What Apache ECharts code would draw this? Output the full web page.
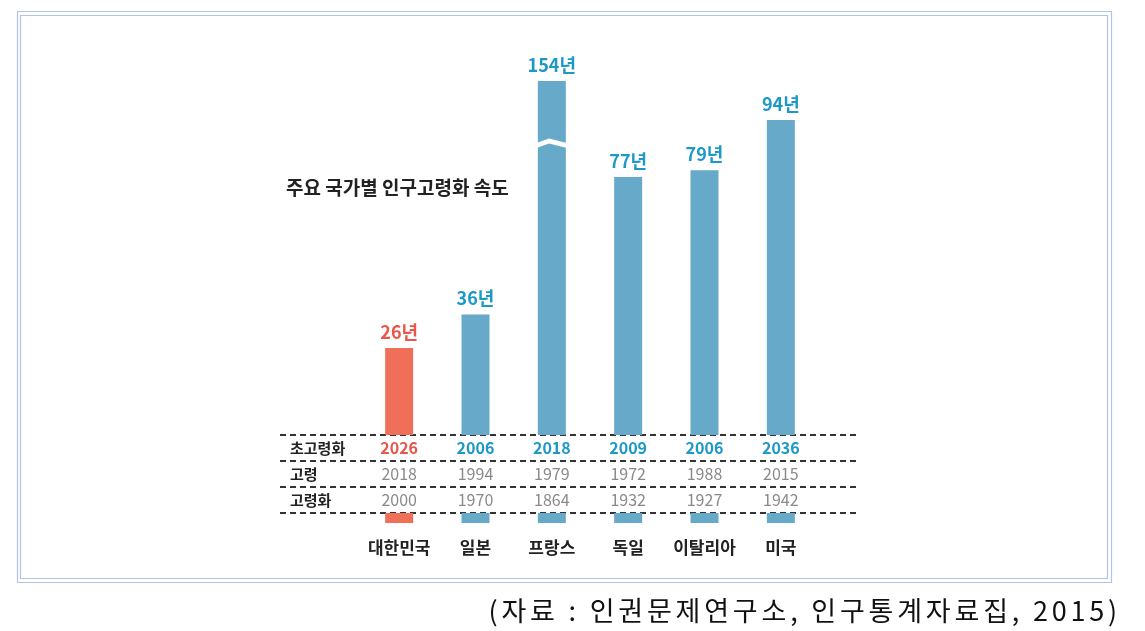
<!DOCTYPE html>
<html><head><meta charset="utf-8">
<script src="https://cdn.jsdelivr.net/npm/echarts@6/dist/echarts.min.js"></script>
<style>
html,body{margin:0;padding:0;background:#fff;}
#c{width:1145px;height:631px;}
#src{position:absolute;right:24px;top:594px;font-family:'Noto Sans CJK KR',sans-serif;font-size:27px;line-height:32px;letter-spacing:3.8px;color:#111;white-space:nowrap;}
</style></head><body>
<div id="c"></div>
<div id="src">(자료 : 인권문제연구소, 인구통계자료집, 2015)</div>
<script>
const countries = ['대한민국','일본','프랑스','독일','이탈리아','미국'];
const agingSpeed = [26,36,154,77,79,94];
const superAgedYear = [2026,2006,2018,2009,2006,2036];
const agedYear = [2018,1994,1979,1972,1988,2015];
const agingYear = [2000,1970,1864,1932,1927,1942];
const rowHeaders = ['초고령화','고령','고령화'];
const unitText = '년';
const titleText = '주요 국가별 인구고령화 속도';
const highlight = '대한민국';

const RED_BAR = '#ef6f59', BLUE_BAR = '#67a9c9';
const RED_TXT = '#e9574a', BLUE_TXT = '#1d98c9';
const BORDER = '#b2c2ea';
const NARROW = "'Liberation Sans Narrow','Noto Sans CJK KR',sans-serif";
const CJK = "'Noto Sans CJK KR',sans-serif";

const brokenIdx = agingSpeed.indexOf(Math.max(...agingSpeed));
const isHi = i => countries[i] === highlight;
const labelFor = i => ({
  show: true, position: 'top', distance: 7,
  formatter: p => p.value + unitText,
  fontFamily: NARROW, fontSize: 18, fontWeight: 'bold',
  color: isHi(i) ? RED_TXT : BLUE_TXT
});
const barItem = i => ({
  value: agingSpeed[i],
  itemStyle: { color: isHi(i) ? RED_BAR : BLUE_BAR },
  label: labelFor(i)
});

const chart = echarts.init(document.getElementById('c'), null, {renderer: 'canvas'});
const gl = 361, gr = 326;
const band = (1145 - gl - gr) / countries.length;

chart.setOption({
  animation: false,
  backgroundColor: '#fff',
  title: { text: titleText, left: 281, top: 173,
    textStyle: { fontFamily: CJK, fontSize: 19, fontWeight: 'bold', color: '#222' } },
  graphic: [
    { type: 'rect', shape: { x: 17.5, y: 11.5, width: 1094, height: 571 }, style: { fill: 'none', stroke: BORDER, lineWidth: 1.2 } },
    { type: 'rect', shape: { x: 20.5, y: 15.5, width: 1087, height: 563 }, style: { fill: 'none', stroke: BORDER, lineWidth: 1.2 } }
  ],
  grid: [
    { left: gl, right: gr, top: 100, bottom: 196 },
    { left: gl + band * brokenIdx, width: band, top: 81, bottom: 196 },
    { left: 280, right: 285, top: 435, height: 78 },
    { left: gl, right: gr, top: 513, height: 10 }
  ],
  xAxis: [
    { gridIndex: 0, type: 'category', data: countries,
      axisLine: { show: false }, axisTick: { show: false },
      axisLabel: { interval: 0, margin: 0, verticalAlign: 'top',
        formatter: (v, idx) => `{${isHi(idx) ? 'sr' : 'sb'}|${superAgedYear[idx]}}\n{g|${agedYear[idx]}}\n{g|${agingYear[idx]}}\n{n|${v}}`,
        rich: {
          sr: { color: RED_TXT, fontFamily: NARROW, fontSize: 16, fontWeight: 'bold', lineHeight: 26 },
          sb: { color: BLUE_TXT, fontFamily: NARROW, fontSize: 16, fontWeight: 'bold', lineHeight: 26 },
          g: { color: '#8a8a8a', fontFamily: NARROW, fontSize: 16, lineHeight: 26 },
          n: { color: '#222', fontFamily: CJK, fontSize: 17, fontWeight: 'bold', lineHeight: 70 }
        } } },
    { gridIndex: 1, type: 'category', data: [countries[brokenIdx]], show: false },
    { gridIndex: 2, type: 'value', min: 0, max: 1, show: false },
    { gridIndex: 3, type: 'category', data: countries, show: false }
  ],
  yAxis: [
    { gridIndex: 0, type: 'value', min: 0, max: 100, show: false },
    { gridIndex: 1, type: 'value', min: 0, max: agingSpeed[brokenIdx],
      axisLine: { show: false }, axisTick: { show: false }, axisLabel: { show: false }, splitLine: { show: false },
      breaks: [{ start: 86, end: 136, gap: 1.6, isExpanded: false }],
      breakArea: { show: true, expandOnClick: false,
        itemStyle: { color: '#fff', borderColor: '#fff', borderWidth: 0, opacity: 1 },
        zigzagAmplitude: 3, zigzagMinSpan: 14, zigzagMaxSpan: 30, zigzagZ: 100 } },
    { gridIndex: 2, type: 'category', data: rowHeaders, inverse: true,
      axisLine: { show: false }, axisTick: { show: false },
      axisLabel: { inside: true, margin: 10, align: 'left', color: '#222', fontFamily: CJK, fontSize: 15, fontWeight: 'bold' },
      splitLine: { show: true, lineStyle: { color: '#333', width: 1.8, type: [6, 4] } } },
    { gridIndex: 3, type: 'value', min: 0, max: 1, show: false }
  ],
  series: [
    { type: 'bar', xAxisIndex: 0, yAxisIndex: 0, barWidth: 28,
      data: agingSpeed.map((v, i) => i === brokenIdx ? null : barItem(i)) },
    { type: 'bar', xAxisIndex: 1, yAxisIndex: 1, barWidth: 28,
      data: [barItem(brokenIdx)] },
    { type: 'bar', xAxisIndex: 3, yAxisIndex: 3, barWidth: 28, clip: true, silent: true,
      data: agingSpeed.map((v, i) => ({ value: v, itemStyle: { color: isHi(i) ? RED_BAR : BLUE_BAR } })) }
  ]
});
</script>
</body></html>
